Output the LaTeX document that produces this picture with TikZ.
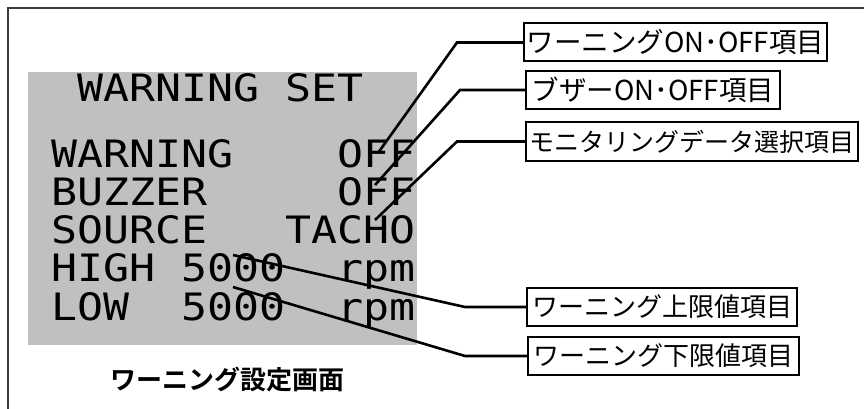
\documentclass[tikz,border=0pt]{standalone}
\usepackage{fontspec}
\usepackage{graphicx}
\newfontfamily\jpfont[BoldFont={Noto Sans CJK JP Bold}]{Noto Sans CJK JP}
\newfontfamily\lcdfont{DejaVu Sans Mono}
\definecolor{lcdgray}{RGB}{192,192,192}
\definecolor{framegray}{RGB}{60,60,60}
\tikzstyle{leader} = [draw,line width=2.6pt]
\tikzstyle{itembox} = [draw,line width=2pt,anchor=west,inner sep=0pt,minimum height=38pt,font=\jpfont\fontsize{26}{30}\selectfont]
\tikzstyle{lcdtext} = [anchor=base west,inner sep=0pt,font=\lcdfont\fontsize{37.7}{34.5}\selectfont]
\newcommand{\lcdrow}[1]{\scalebox{1.146}[1]{#1}}

\begin{document}
\begin{tikzpicture}[x=1pt,y=-1pt]
    \useasboundingbox (0,0) rectangle (864,409);
    \draw[framegray,line width=2pt] (8,409) -- (8,8) -- (864,8);
    % LCD screen
    \fill[lcdgray] (28,72) rectangle (417,345);
    \node[lcdtext] (title) at (51,102) {\lcdrow{~WARNING~SET}};
    \node[lcdtext] (rows) at (51,167) {\lcdrow{\begin{tabular}[t]{@{}l@{}}
        WARNING~~~~OFF\\
        BUZZER~~~~~OFF\\
        SOURCE~~~TACHO\\
        HIGH~5000~~rpm\\
        LOW~~5000~~rpm
      \end{tabular}}};
    \node[font=\jpfont\bfseries\fontsize{26}{30}\selectfont] (caption) at (227.5,380) {ワーニング設定画面};
    % item labels
    \node[itembox,minimum width=303pt,font=\jpfont\fontsize{27.5}{30}\selectfont] (warnitem) at (523,42.5) {ワーニングON･OFF項目};
    \node[itembox,minimum width=254pt,font=\jpfont\fontsize{27.5}{30}\selectfont] (buzzitem) at (525,90) {ブザーON･OFF項目};
    \node[itembox,minimum width=332pt,font=\jpfont\fontsize{25}{30}\selectfont] (srcitem) at (525,141.5) {モニタリングデータ選択項目};
    \node[itembox,minimum width=270pt] (highitem) at (526,307) {ワーニング上限値項目};
    \node[itembox,minimum width=271pt] (lowitem) at (527,356) {ワーニング下限値項目};
    \coordinate (warnval) at (378,153);
    \coordinate (buzzval) at (375,185);
    \coordinate (srcval) at (375,220);
    \coordinate (highval) at (233,255);
    \coordinate (lowval) at (233,287);
    \path [leader] (warnitem.west) -- ++(-66,0) -- (warnval);
    \path [leader] (buzzitem.west) -- ++(-65,0) -- (buzzval);
    \path [leader] (srcitem.west) -- ++(-68,0) -- (srcval);
    \path [leader] (highitem.west) -- ++(-61,0) -- (highval);
    \path [leader] (lowitem.west) -- ++(-62,0) -- (lowval);
\end{tikzpicture}
\end{document}
